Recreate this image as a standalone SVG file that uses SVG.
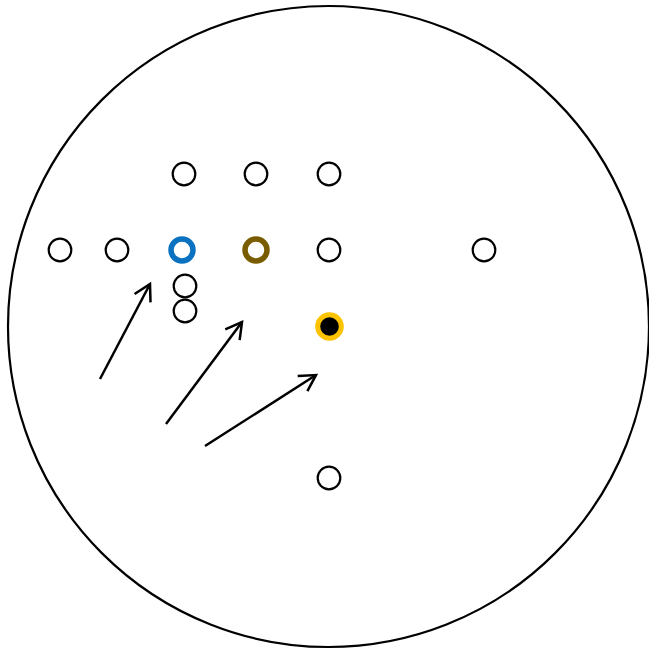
<svg xmlns="http://www.w3.org/2000/svg" width="649" height="649" viewBox="0 0 649 649">
<style>
.n{fill:#fff;stroke:#000;stroke-width:2.2}
.c{fill:none;stroke:#000;stroke-width:2.5}
</style>
<defs>
<marker id="ah" markerWidth="24" markerHeight="24" refX="19" refY="12" orient="auto" markerUnits="userSpaceOnUse">
<path d="M3,3 L19,12 L3,21" fill="none" stroke="#000" stroke-width="2.5"/>
</marker>
</defs>
<rect width="649" height="649" fill="#fff"/>
<g id="field"><circle cx="328.5" cy="326.5" r="320.5" fill="none" stroke="#000" stroke-width="2.2"/></g>
<g id="n1"><circle class="n" cx="184" cy="174" r="11.3"/></g>
<g id="n2"><circle class="n" cx="256" cy="174" r="11.3"/></g>
<g id="n3"><circle class="n" cx="329" cy="174" r="11.3"/></g>
<g id="n4"><circle class="n" cx="60" cy="250" r="11.3"/></g>
<g id="n5"><circle class="n" cx="117" cy="250" r="11.3"/></g>
<g id="n6"><circle cx="182" cy="250" r="11" fill="#fff" stroke="#0a72c0" stroke-width="5.5"/></g>
<g id="n7"><circle cx="256" cy="250" r="11" fill="#fff" stroke="#7a5c00" stroke-width="5.5"/></g>
<g id="n8"><circle class="n" cx="329" cy="250" r="11.3"/></g>
<g id="n9"><circle class="n" cx="484" cy="250" r="11.3"/></g>
<g id="n10"><circle class="n" cx="185" cy="286" r="11.3"/></g>
<g id="n11"><circle class="n" cx="185" cy="311" r="11.3"/></g>
<g id="n12"><circle cx="329.5" cy="326.5" r="11.8" fill="#000" stroke="#fdc300" stroke-width="5"/></g>
<g id="n13"><circle class="n" cx="329" cy="478" r="11.3"/></g>
<g id="connectors">
<line class="c" x1="100" y1="379" x2="150" y2="284" marker-end="url(#ah)"/>
<line class="c" x1="166" y1="424" x2="242" y2="322" marker-end="url(#ah)"/>
<line class="c" x1="205" y1="446" x2="316" y2="375" marker-end="url(#ah)"/>
</g>
</svg>
